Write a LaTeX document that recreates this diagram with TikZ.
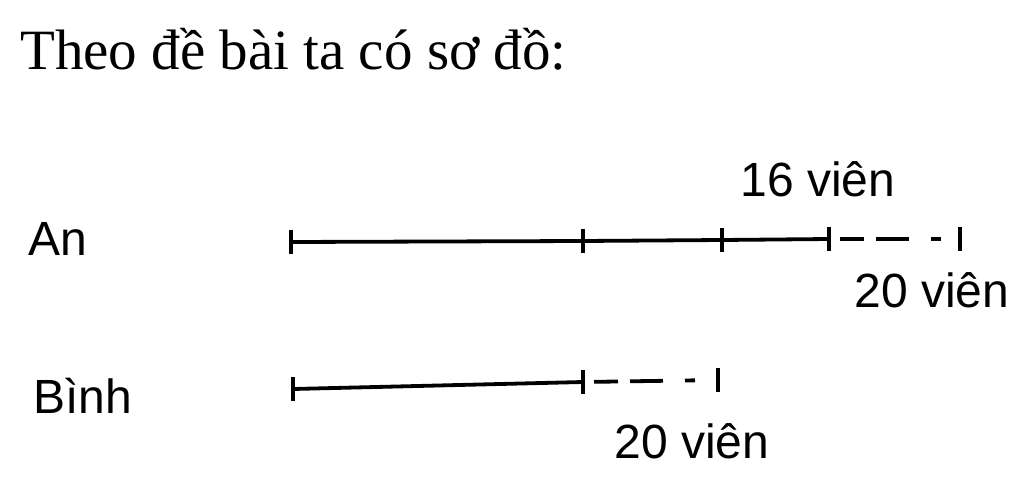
\documentclass[tikz,border=0pt]{standalone}
\usepackage{fontspec}
\setmainfont{Liberation Serif}
\newfontfamily\arialfont{Liberation Sans}
\tikzset{
	seg/.style={line width=3.8pt},
	dashseg/.style={line width=3.8pt, dash pattern=on 0pt off 11pt on 24pt off 12pt on 33pt off 22pt on 10pt off 30pt},
	tickmark/.style={line width=3.8pt},
	lbl/.style={font=\arialfont\fontsize{48}{56}\selectfont, inner sep=0pt},
	title/.style={font=\fontsize{57}{64}\selectfont, inner sep=0pt, anchor=base west}
}
\begin{document}
\begin{tikzpicture}[x=1pt,y=-1pt]
\useasboundingbox (0,0) rectangle (1024,492);
% tieu de
\node[title] (tieude) at (20,70) {Theo đề bài ta có sơ đồ:};
% doan cua An
\coordinate (a0) at (291,242);
\coordinate (a1) at (583,241);
\coordinate (a2) at (722,240);
\coordinate (a3) at (829,239);
\coordinate (a4) at (960,239);
% doan cua Binh
\coordinate (b0) at (293,389);
\coordinate (b1) at (583,382);
\coordinate (b2) at (718,380);
\node[lbl, anchor=base west] (an) at (28,255) {An};
\node[lbl, anchor=base west] (binh) at (33,413) {Bình};
\draw[seg] (a0) -- (a1) -- (a2) -- (a3);
\draw[dashseg] (a3) -- (a4);
\draw[seg] (b0) -- (b1);
\draw[dashseg] (b1) -- (b2);
\foreach \p in {a0,a1,a2,a3,a4,b0,b1,b2} {
	\draw[tickmark] ([yshift=-12pt]\p) -- ([yshift=12pt]\p);
}
\node[lbl, anchor=base] (mu) at (818,196) {16 viên};
\node[lbl, anchor=base] (an20) at (932,307) {20 viên};
\node[lbl, anchor=base] (binh20) at (692,458) {20 viên};
\end{tikzpicture}
\end{document}
